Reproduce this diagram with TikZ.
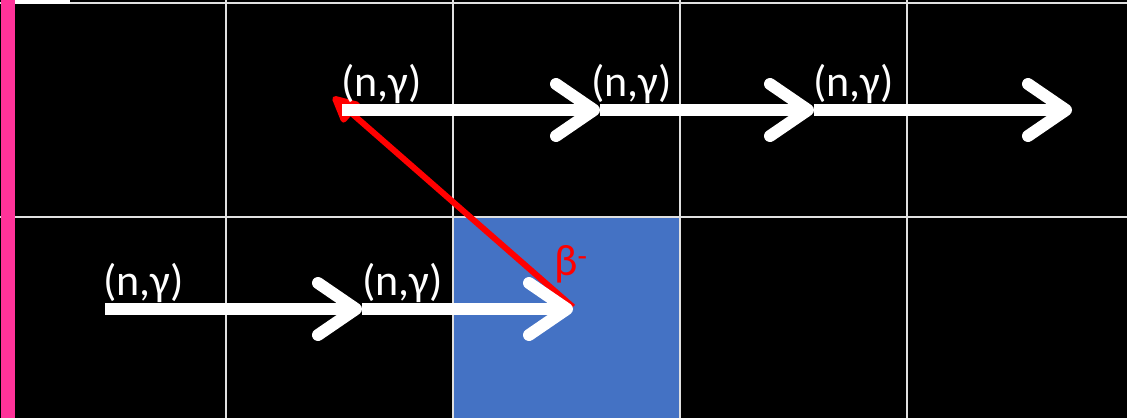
\documentclass[tikz,border=0pt]{standalone}
\usepackage{fontspec}
\setmainfont{Carlito}
\usetikzlibrary{arrows.meta}
\definecolor{cellblue}{HTML}{4472C4}
\definecolor{barpink}{HTML}{FF3399}
\begin{document}
\begin{tikzpicture}[x=1pt,y=-1pt,
  gridline/.style={draw=white!88!black,line width=2pt},
  ngarrow/.style={draw=white,line width=12pt,-{Straight Barb[length=38pt,width=52pt,round]}},
  betaarrow/.style={draw=red,line width=6pt,-{Triangle[length=30pt,width=28pt,round]}},
  nglabel/.style={text=white,font=\fontsize{44}{48}\selectfont,inner sep=0pt,anchor=south west,yshift=6pt},
  betalabel/.style={text=red,font=\fontsize{44}{48}\selectfont,inner sep=0pt,anchor=south west}]
\useasboundingbox (0,0) rectangle (1127,418);
\fill[black] (0,0) rectangle (1127,418);
% blue cell
\fill[cellblue] (453,217) rectangle (680,418);
% grid
\draw[gridline] (0,217) -- (1127,217);
\draw[gridline] (0,2.5) -- (1127,2.5);
\foreach \gx in {226,453,680,907} \draw[gridline] (\gx,0) -- (\gx,418);
\fill[white] (14,0) rectangle (70,4);
% pink bar
\fill[barpink] (1,0) rectangle (15,418);
% coordinates
\coordinate (a0) at (105,309);
\coordinate (a1) at (362,309);
\coordinate (a2) at (573,309);
\coordinate (b0) at (342,110);
\coordinate (b1) at (600,110);
\coordinate (b2) at (814,110);
\coordinate (b3) at (1072,110);
\coordinate (r0) at (573,307);
\coordinate (r1) at (333,97);
% arrows
\draw[betaarrow] (r0) -- (r1);
\draw[ngarrow] (a0) -- (a1);
\draw[ngarrow] (a1) -- (a2);
\draw[ngarrow] (b0) -- (b1);
\draw[ngarrow] (b1) -- (b2);
\draw[ngarrow] (b2) -- (b3);
% labels
\node[nglabel,xshift=-2pt] (la0) at (a0) {(n,γ)};
\node[nglabel] (la1) at (a1) {(n,γ)};
\node[nglabel,xshift=-1pt] (lb0) at (b0) {(n,γ)};
\node[nglabel,xshift=-9pt] (lb1) at (b1) {(n,γ)};
\node[nglabel,xshift=-1pt] (lb2) at (b2) {(n,γ)};
\node[betalabel] (lbeta) at (554,283) {β\textsuperscript{-}};
\end{tikzpicture}
\end{document}
